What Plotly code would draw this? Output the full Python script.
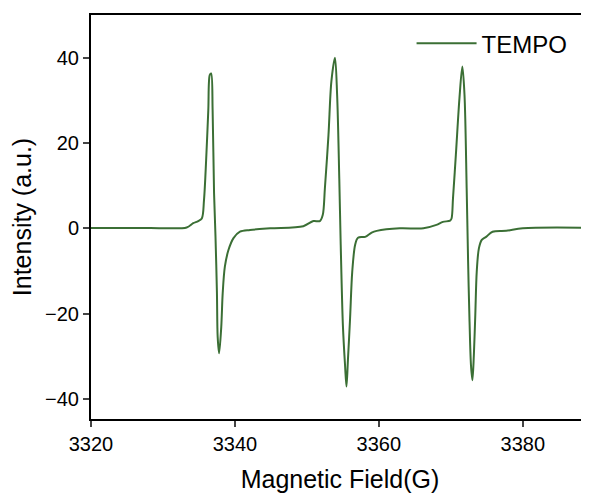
import plotly.graph_objects as go

# EPR spectrum of TEMPO
field_g = [
    3320.0, 3328.2, 3333.3, 3334.2, 3334.9, 3335.4, 3335.7, 3336.0, 3336.3, 3336.5,
    3336.7, 3336.9, 3337.1, 3337.3, 3337.5, 3337.6, 3337.8, 3338.1, 3338.3, 3338.6,
    3339.1, 3339.8, 3340.7, 3342.1, 3344.9, 3349.5, 3350.9, 3351.8, 3352.2, 3352.5,
    3353.0, 3353.4, 3353.9, 3354.2, 3354.5, 3354.7, 3355.0, 3355.3, 3355.5, 3355.7,
    3356.0, 3356.3, 3356.7, 3357.1, 3358.1, 3359.0, 3359.7, 3362.9, 3366.2, 3368.0,
    3368.9, 3369.9, 3370.1, 3370.3, 3370.7, 3371.2, 3371.6, 3371.9, 3372.2, 3372.4,
    3372.6, 3372.8, 3373.0, 3373.2, 3373.4, 3373.6, 3373.9, 3374.3, 3374.9, 3375.8,
    3377.7, 3380.0, 3390.0,
]
intensity = [
    0.1, 0.1, 0.2, 1.2, 1.7, 2.3, 6.6, 16.0, 27.7, 35.9,
    36.3, 27.7, 8.2, -2.0, -15.2, -25.4, -29.3, -23.1, -15.2, -9.0,
    -5.1, -2.3, -0.8, -0.4, 0.0, 0.5, 1.7, 1.7, 3.1, 9.4,
    21.9, 34.4, 40.0, 31.3, 11.7, -3.9, -22.7, -32.1, -37.1, -30.9,
    -21.1, -10.2, -3.9, -2.2, -2.0, -1.0, -0.6, 0.0, 0.0, 0.8,
    1.5, 1.8, 2.3, 7.0, 17.2, 30.5, 37.9, 31.3, 9.4, -7.8,
    -21.9, -32.1, -35.6, -29.7, -20.3, -10.2, -4.7, -2.7, -2.0, -0.8,
    -0.6, 0.0, 0.1,
]

x_ticks = [3320, 3340, 3360, 3380]
y_ticks = [-40, -20, 0, 20, 40]

font_family = "Liberation Sans, Arial, sans-serif"

fig = go.Figure()
fig.add_trace(
    go.Scatter(
        x=field_g,
        y=intensity,
        mode="lines",
        name="TEMPO",
        line=dict(color="#3b6f35", width=2, shape="spline", smoothing=0.9),
    )
)

# the page body adds an 8px offset, so the figure is 8px smaller
fig.update_layout(
    width=581,
    height=485,
    margin=dict(l=83, r=0, t=7, b=74),
    plot_bgcolor="white",
    paper_bgcolor="white",
    font=dict(family=font_family, size=20, color="black"),
    showlegend=True,
    legend=dict(
        x=0.967,
        y=0.985,
        xanchor="right",
        yanchor="top",
        bgcolor="rgba(0,0,0,0)",
        font=dict(size=24),
        itemwidth=60,
    ),
)

fig.update_xaxes(
    range=[3320, 3389.2],
    tickvals=x_ticks,
    ticks="outside",
    ticklen=6,
    tickwidth=2,
    showline=True,
    linecolor="black",
    linewidth=2,
    mirror=True,
    showgrid=False,
    zeroline=False,
    title=dict(text="Magnetic Field(G)", font=dict(size=25), standoff=18),
)
fig.update_yaxes(
    range=[-44.7, 50],
    tickvals=y_ticks,
    ticks="outside",
    ticklen=6,
    tickwidth=2,
    showline=True,
    linecolor="black",
    linewidth=2,
    showgrid=False,
    zeroline=False,
    title=dict(text="Intensity (a.u.)", font=dict(size=25), standoff=8),
)

fig.write_html("out.html")
